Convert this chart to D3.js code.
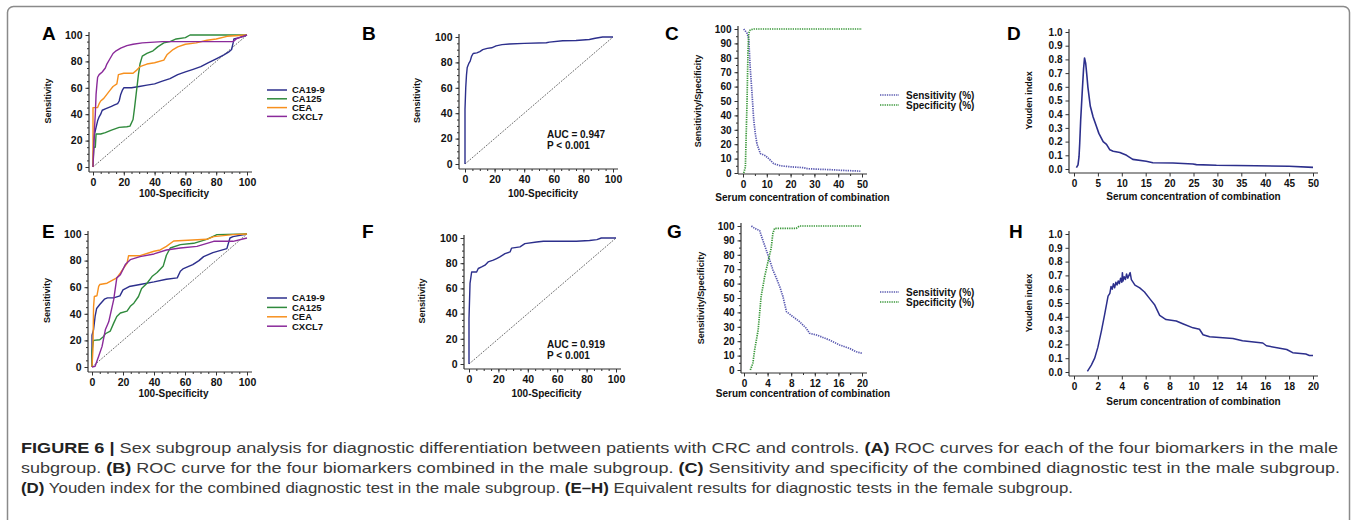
<!DOCTYPE html>
<html>
<head>
<meta charset="utf-8">
<script src="https://cdn.jsdelivr.net/npm/d3@7"></script>
<style>
  body { margin: 0; background: #fff; }
  svg text { font-family: "Liberation Sans", Arial, sans-serif; }
</style>
</head>
<body>
<svg id="fig" width="1357" height="520"></svg>
<script>
// ---- data ----
var markers = ["CA19-9", "CA125", "CEA", "CXCL7"];
var sensSpecNames = ["Sensitivity (%)", "Specificity (%)"];

var rocTicks = [0, 20, 40, 60, 80, 100];
var pctTicks = [0, 10, 20, 30, 40, 50, 60, 70, 80, 90, 100];
var youdenTicks = [0, 0.1, 0.2, 0.3, 0.4, 0.5, 0.6, 0.7, 0.8, 0.9, 1.0];
var concTicksMale = [0, 10, 20, 30, 40, 50];
var concTicksMaleD = [0, 5, 10, 15, 20, 25, 30, 35, 40, 45, 50];
var concTicksFemaleG = [0, 4, 8, 12, 16, 20];
var concTicksFemaleH = [0, 2, 4, 6, 8, 10, 12, 14, 16, 18, 20];

// A: male, single markers  [100-specificity, sensitivity]
var ca199Male = [[0,0],[0.5,20],[1,25],[2,30],[3,35],[4,38],[5,40],[6,43],[8,44],[10,45],[12,46],[14,47],[16,48],[17,50],[18,55],[19,58],[20,60],[25,60],[30,61],[35,62],[40,63],[45,65],[50,67],[55,70],[60,72],[65,74],[70,76],[75,79],[80,82],[85,85],[88,87],[90,89],[91,94],[91.5,97],[95,98],[100,100]];
var ca125Male = [[0,0],[0.5,15],[1.5,15],[2,25],[5,25],[8,26],[12,28],[17,30],[22,30.5],[24,31],[26,36],[27,45],[28,55],[28.5,60],[29.5,70],[30.5,78],[32,84],[35,86],[39,88],[42,91],[46,94],[50,95],[54,97],[60,98],[63,100],[100,100]];
var ceaMale = [[0,0],[0,45],[3,45],[4,48],[5,50],[7,52],[9,55],[11,58],[13,61],[15.5,63],[16.5,70],[20,71],[26,71],[28,73],[30.5,76],[35,78],[40,79],[46,81],[48,85],[52,89],[55,91],[60,93],[67,94],[74,96],[80,97],[87,99],[100,100]];
var cxcl7Male = [[0,0],[0.5,15],[1,30],[1.5,40],[2,55],[2.5,62],[3,68],[4,70],[6,72],[8,75],[9,78],[11,82],[13,86],[15,88],[18,90],[22,92],[26,93],[32,94],[45,95],[60,95],[91,95],[93,97],[95,98],[100,100]];

// B: male, combined
var combMale = [[0,0],[0,43],[0.5,60],[1,70],[1.5,76],[2.5,79],[3.5,81],[4.5,85],[5.5,87],[8,87.5],[10,88.5],[12,90],[15,91],[18,91.5],[21,93],[25,94],[30,94.5],[40,95],[55,95.5],[57,96],[66,97],[75,97.3],[84,98],[88,99],[93,100],[100,100]];

// C: male, sensitivity / specificity vs concentration
var sensMale = [[0.3,100],[1.7,97],[2.4,93.5],[3,74],[3.8,55],[4.5,37],[5.2,27],[5.9,20],[7.3,13.5],[9.4,12],[10.8,10],[12.9,6.5],[15.7,5],[20,4.3],[25.5,3.7],[27,3],[32,2.6],[36.7,2.3],[42,1.8],[48,1.4],[49.3,1.2]];
var specMale = [[0.3,0],[1,4],[1.7,50],[2.1,85],[2.4,97],[3,99.3],[4.5,100],[50,100]];

// D: male, Youden index
var youdenMale = [[0.5,0.01],[0.84,0.03],[1.05,0.09],[1.2,0.19],[1.4,0.36],[1.75,0.58],[2.0,0.73],[2.2,0.81],[2.45,0.77],[2.7,0.68],[2.9,0.6],[3.4,0.46],[4.0,0.38],[4.7,0.31],[5.2,0.26],[6.1,0.2],[6.8,0.18],[7.5,0.14],[8.2,0.13],[9.6,0.12],[11,0.1],[12.3,0.07],[15.1,0.056],[16.5,0.046],[20.7,0.044],[24.9,0.037],[25.6,0.032],[29.8,0.027],[38,0.024],[45,0.02],[50,0.012]];

// E: female, single markers
var ca199Female = [[0,0],[0,24],[1,28],[2,38],[3,44],[5,47],[8,51],[10,52],[14,52],[18,53.5],[20,58],[24,60.5],[31,62],[40,64],[48,66],[55,67],[57,72],[59,74],[65,77],[69,80],[72,83],[78,86],[87,89],[89,97],[91,98],[100,100]];
var ca125Female = [[0,0],[0,12],[1,20],[5,20.5],[7.5,23],[8.6,25],[11.8,27],[14,33],[16,38],[18.3,40.6],[22.6,42],[24.7,45.6],[27,48],[30,53],[32,59],[35.5,63],[38.7,68],[42,71],[46,76],[48,84],[50.5,89.5],[57,92],[65.6,93],[74,96],[80.6,99.5],[100,100]];
var ceaFemale = [[0,0],[0.6,13],[1,45],[1.5,53],[3.2,53.6],[4.3,60.6],[5,62],[9.7,63],[16,67],[18.3,70.7],[20.4,74.4],[22.6,78],[23.6,83.7],[31,83.7],[40,87],[44,88],[48,90.7],[52.7,94.7],[74,96],[78.5,98],[91,99.5],[100,100]];
var cxcl7Female = [[0,0],[2,0.5],[4.3,8],[6.5,15.5],[8.6,28],[10.8,34],[14,50.6],[16,67],[18.3,69.4],[21.5,77],[24.7,80.7],[31,83],[40,85],[48,88],[57,89.5],[67.7,90.7],[78.5,94.5],[91,94.5],[100,97]];

// F: female, combined
var combFemale = [[0,0],[0,36],[0.7,64],[1.8,73],[5.2,73],[6.3,75.8],[8.6,77],[10.9,78.4],[13,81],[16.5,82.4],[18.8,83.7],[21,85],[24.5,87.6],[28,89],[29,92],[34.7,93],[38,95.5],[46,96.8],[50.6,97.4],[73,97.4],[82,98],[87,98.7],[90,100],[100,100]];

// G: female, sensitivity / specificity
var sensFemale = [[1.25,100],[1.8,98.4],[2.65,96.8],[3.2,90],[3.8,83],[4.35,76.4],[4.9,69.4],[5.5,63.7],[6.05,58],[6.6,51],[7.2,40.5],[8.3,37],[9.4,33.6],[10.55,29],[11.1,25.5],[12.3,24.3],[14.5,20.8],[16.2,17.4],[17.9,15],[19,12.7],[20,11.6]];
var specFemale = [[1.07,0],[1.5,4.6],[1.8,13.9],[2.4,27.8],[2.9,51],[3.5,64.8],[4.07,75.2],[4.6,84.5],[4.9,95],[5.2,98.4],[8.87,98.4],[9.4,100],[20,100]];

// H: female, Youden index
var youdenFemale = [[1.12,0.005],[1.45,0.05],[1.73,0.1],[2.0,0.18],[2.3,0.3],[2.57,0.42],[2.85,0.55],[3.0,0.57],[3.1,0.62],[3.2,0.6],[3.3,0.64],[3.4,0.61],[3.5,0.65],[3.6,0.63],[3.7,0.66],[3.8,0.64],[3.9,0.68],[4.0,0.65],[4.05,0.72],[4.1,0.66],[4.2,0.69],[4.3,0.67],[4.4,0.71],[4.5,0.68],[4.6,0.70],[4.7,0.72],[4.8,0.67],[5.1,0.63],[5.5,0.61],[5.9,0.58],[6.35,0.53],[6.76,0.485],[7.17,0.41],[7.7,0.38],[8.56,0.37],[9.1,0.35],[9.96,0.32],[10.5,0.31],[10.8,0.27],[11.35,0.255],[13.3,0.243],[14.1,0.226],[15.8,0.21],[16.1,0.19],[17.8,0.163],[18.3,0.14],[19.4,0.13],[19.7,0.12],[20,0.12]];

var aucMale = ["AUC = 0.947", "P < 0.001"];
var aucFemale = ["AUC = 0.919", "P < 0.001"];

// ---- styles ----
var cBlue = "#2c2f8c", cGreen = "#2f8a3c", cOrange = "#f7901e", cPurple = "#8a2a9a";
var cSens = "#5858b0", cSpec = "#3a983a";
var axisCol = "#333";

var svg = d3.select("#fig");

// figure frame
svg.append("rect")
  .attr("x", 7.5).attr("y", 6.5)
  .attr("width", 1342).attr("height", 540)
  .attr("rx", 6)
  .attr("fill", "none")
  .attr("stroke", "#8a8a8a")
  .attr("stroke-width", 1.5);

function range(a, b, s) {
  return d3.range(a, b + s / 2, s);
}

function drawPanel(p) {
  var g = svg.append("g");
  var x = d3.scaleLinear().domain(p.xDomain).range([p.x0, p.x1]);
  var y = d3.scaleLinear().domain(p.yDomain).range([p.y0, p.y1]);

  // minor ticks
  if (p.yMinor) {
    g.append("g").attr("transform", "translate(" + p.ax + ",0)")
      .call(d3.axisLeft(y).tickValues(p.yMinor).tickSize(2).tickFormat(""));
  }
  if (p.xMinor) {
    g.append("g").attr("transform", "translate(0," + p.ay + ")")
      .call(d3.axisBottom(x).tickValues(p.xMinor).tickSize(2).tickFormat(""));
  }
  g.append("g").attr("class", "yax").attr("transform", "translate(" + p.ax + ",0)")
    .call(d3.axisLeft(y).tickValues(p.yTicks).tickSize(3.5).tickPadding(3).tickFormat(p.yFmt || d3.format("d")));
  g.append("g").attr("class", "xax").attr("transform", "translate(0," + p.ay + ")")
    .call(d3.axisBottom(x).tickValues(p.xTicks).tickSize(3.5).tickPadding(3).tickFormat(d3.format("d")));

  g.selectAll(".domain").remove();
  g.selectAll(".tick line").attr("stroke", axisCol).attr("stroke-width", 1);
  g.selectAll(".tick text")
    .attr("fill", "#111")
    .attr("font-weight", "bold")
    .attr("font-size", p.tickSize);

  // GraphPad-style offset axes
  g.append("line")
    .attr("x1", p.ax).attr("x2", p.ax)
    .attr("y1", y(p.yDomain[1]) - 3).attr("y2", p.ay)
    .attr("stroke", axisCol).attr("stroke-width", 1.2);
  g.append("line")
    .attr("x1", p.ax).attr("x2", x(p.xDomain[1]) + 5)
    .attr("y1", p.ay).attr("y2", p.ay)
    .attr("stroke", axisCol).attr("stroke-width", 1.2);

  // reference diagonal
  if (p.diagonal) {
    g.append("line")
      .attr("x1", x(0)).attr("y1", y(0))
      .attr("x2", x(100)).attr("y2", y(100))
      .attr("stroke", "#222").attr("stroke-width", 0.9)
      .attr("stroke-dasharray", "1,1.3");
  }

  var line = d3.line()
    .x(function(d) { return x(d[0]); })
    .y(function(d) { return y(d[1]); });

  p.series.forEach(function(s) {
    g.append("path")
      .datum(s.data)
      .attr("d", line)
      .attr("fill", "none")
      .attr("stroke", s.color)
      .attr("stroke-width", s.width || 1.4)
      .attr("stroke-dasharray", s.dash || null)
      .attr("stroke-linejoin", "round");
  });

  // axis titles
  g.append("text")
    .attr("x", (p.x0 + p.x1) / 2 + (p.xTitleDx || 0)).attr("y", p.ay + p.xTitleDy)
    .attr("text-anchor", "middle")
    .attr("font-weight", "bold").attr("font-size", p.titleSize).attr("fill", "#111")
    .text(p.xTitle);
  g.append("text")
    .attr("transform", "translate(" + (p.ax - p.yTitleDx) + "," + ((p.y0 + p.y1) / 2) + ") rotate(-90)")
    .attr("text-anchor", "middle")
    .attr("font-weight", "bold").attr("font-size", 9).attr("fill", "#111")
    .text(p.yTitle);

  // panel letter
  g.append("text")
    .attr("x", p.letterX).attr("y", p.letterY)
    .attr("font-weight", "bold").attr("font-size", 19).attr("fill", "#000")
    .text(p.letter);

  // legend
  if (p.legend) {
    var lg = g.append("g");
    p.legend.items.forEach(function(it, i) {
      var ly = p.legend.y + i * p.legend.step;
      lg.append("line")
        .attr("x1", p.legend.x).attr("x2", p.legend.x + p.legend.len)
        .attr("y1", ly).attr("y2", ly)
        .attr("stroke", it.color).attr("stroke-width", it.width || 1.5)
        .attr("stroke-dasharray", it.dash || null);
      lg.append("text")
        .attr("x", p.legend.x + p.legend.len + p.legend.gap).attr("y", ly)
        .attr("dy", "0.35em")
        .attr("font-weight", "bold").attr("font-size", p.legend.size).attr("fill", "#111")
        .text(it.name);
    });
  }

  // AUC note
  if (p.note) {
    p.note.forEach(function(t, i) {
      g.append("text")
        .attr("x", p.noteX).attr("y", p.noteY + i * 11)
        .attr("font-weight", "bold").attr("font-size", 10).attr("fill", "#111")
        .text(t);
    });
  }
}

var rocColors = [cBlue, cGreen, cOrange, cPurple];

function rocLegend(y0, step) {
  return {
    x: 267, len: 20, gap: 5, y: y0, step: step, size: 9.5,
    items: markers.map(function(m, i) { return { name: m, color: rocColors[i] }; })
  };
}

function rocSeries(list) {
  return list.map(function(d, i) { return { data: d, color: rocColors[i] }; });
}

var sensLegendItems = [
  { name: sensSpecNames[0], color: cSens, dash: "1.3,1", width: 1.5 },
  { name: sensSpecNames[1], color: cSpec, dash: "1.3,1", width: 1.5 }
];

var panels = [
  { letter: "A", letterX: 42, letterY: 40,
    xDomain: [0, 100], yDomain: [0, 100], x0: 93, x1: 247, y0: 167, y1: 35, ax: 89, ay: 172,
    xTicks: rocTicks, yTicks: rocTicks, xMinor: range(0, 100, 5), yMinor: range(0, 100, 5),
    tickSize: 10.5, titleSize: 10, xTitle: "100-Specificity", yTitle: "Sensitivity", xTitleDy: 25, xTitleDx: 4, yTitleDx: 38,
    diagonal: true, series: rocSeries([ca199Male, ca125Male, ceaMale, cxcl7Male]),
    legend: rocLegend(90, 8.8) },
  { letter: "B", letterX: 362, letterY: 40,
    xDomain: [0, 100], yDomain: [0, 100], x0: 465, x1: 613, y0: 164, y1: 37, ax: 459, ay: 169,
    xTicks: rocTicks, yTicks: rocTicks, xMinor: range(0, 100, 5), yMinor: range(0, 100, 5),
    tickSize: 10.5, titleSize: 10, xTitle: "100-Specificity", yTitle: "Sensitivity", xTitleDy: 28, xTitleDx: 4, yTitleDx: 39,
    diagonal: true, series: [{ data: combMale, color: cBlue }],
    note: aucMale, noteX: 547, noteY: 138 },
  { letter: "C", letterX: 665, letterY: 40,
    xDomain: [0, 50], yDomain: [0, 100], x0: 743, x1: 862, y0: 173, y1: 29, ax: 738, ay: 174,
    xTicks: concTicksMale, yTicks: pctTicks, xMinor: range(0, 50, 5), yMinor: range(0, 100, 5),
    tickSize: 10, titleSize: 10, xTitle: "Serum concentration of combination", yTitle: "Sensitivity/Specificity",
    xTitleDy: 27, yTitleDx: 37,
    series: [{ data: sensMale, color: cSens, dash: "1.3,1", width: 1.7 }, { data: specMale, color: cSpec, dash: "1.3,1", width: 1.7 }],
    legend: { x: 880, len: 19, gap: 7, y: 95, step: 10, size: 10, items: sensLegendItems } },
  { letter: "D", letterX: 1007, letterY: 40,
    xDomain: [0, 50], yDomain: [0, 1], x0: 1074, x1: 1313, y0: 169, y1: 32, ax: 1069, ay: 173,
    xTicks: concTicksMaleD, yTicks: youdenTicks, yFmt: d3.format(".1f"),
    tickSize: 10, titleSize: 10, xTitle: "Serum concentration of combination", yTitle: "Youden index",
    xTitleDy: 27, yTitleDx: 37,
    series: [{ data: youdenMale, color: cBlue, width: 1.6 }] },

  { letter: "E", letterX: 42, letterY: 238,
    xDomain: [0, 100], yDomain: [0, 100], x0: 92, x1: 247, y0: 367, y1: 234, ax: 88, ay: 372,
    xTicks: rocTicks, yTicks: rocTicks, xMinor: range(0, 100, 5), yMinor: range(0, 100, 5),
    tickSize: 10.5, titleSize: 10, xTitle: "100-Specificity", yTitle: "Sensitivity", xTitleDy: 25, xTitleDx: 4, yTitleDx: 38,
    diagonal: true, series: rocSeries([ca199Female, ca125Female, ceaFemale, cxcl7Female]),
    legend: rocLegend(298, 9.4) },
  { letter: "F", letterX: 362, letterY: 238,
    xDomain: [0, 100], yDomain: [0, 100], x0: 469, x1: 616, y0: 364, y1: 238, ax: 464, ay: 369,
    xTicks: rocTicks, yTicks: rocTicks, xMinor: range(0, 100, 5), yMinor: range(0, 100, 5),
    tickSize: 10.5, titleSize: 10, xTitle: "100-Specificity", yTitle: "Sensitivity", xTitleDy: 28, xTitleDx: 4, yTitleDx: 39,
    diagonal: true, series: [{ data: combFemale, color: cBlue }],
    note: aucFemale, noteX: 547, noteY: 348 },
  { letter: "G", letterX: 667, letterY: 238,
    xDomain: [0, 20], yDomain: [0, 100], x0: 744, x1: 862, y0: 370, y1: 226, ax: 741, ay: 373,
    xTicks: concTicksFemaleG, yTicks: pctTicks, xMinor: range(0, 20, 2), yMinor: range(0, 100, 5),
    tickSize: 10, titleSize: 10, xTitle: "Serum concentration of combination", yTitle: "Sensitivity/Specificity",
    xTitleDy: 24, yTitleDx: 37,
    series: [{ data: sensFemale, color: cSens, dash: "1.3,1", width: 1.7 }, { data: specFemale, color: cSpec, dash: "1.3,1", width: 1.7 }],
    legend: { x: 880, len: 19, gap: 7, y: 292, step: 10, size: 10, items: sensLegendItems } },
  { letter: "H", letterX: 1009, letterY: 238,
    xDomain: [0, 20], yDomain: [0, 1], x0: 1074, x1: 1313, y0: 372, y1: 234, ax: 1069, ay: 376,
    xTicks: concTicksFemaleH, yTicks: youdenTicks, yFmt: d3.format(".1f"),
    tickSize: 10, titleSize: 10, xTitle: "Serum concentration of combination", yTitle: "Youden index",
    xTitleDy: 29, yTitleDx: 37,
    series: [{ data: youdenFemale, color: cBlue, width: 1.5 }] }
];

panels.forEach(drawPanel);

// ---- caption ----
var captionLines = [
  [["FIGURE 6 | ", true], ["Sex subgroup analysis for diagnostic differentiation between patients with CRC and controls. ", false], ["(A)", true], [" ROC curves for each of the four biomarkers in the male", false]],
  [["subgroup. ", false], ["(B)", true], [" ROC curve for the four biomarkers combined in the male subgroup. ", false], ["(C)", true], [" Sensitivity and specificity of the combined diagnostic test in the male subgroup.", false]],
  [["(D)", true], [" Youden index for the combined diagnostic test in the male subgroup. ", false], ["(E–H)", true], [" Equivalent results for diagnostic tests in the female subgroup.", false]]
];
var captionWidths = [1317, 1319, 1052];

captionLines.forEach(function(parts, i) {
  var t = svg.append("text")
    .attr("x", 21).attr("y", 453 + i * 20)
    .attr("font-size", 14.5)
    .attr("fill", "#333")
    .attr("textLength", captionWidths[i])
    .attr("lengthAdjust", "spacingAndGlyphs")
    .style("white-space", "pre");
  parts.forEach(function(pt) {
    t.append("tspan")
      .attr("font-weight", pt[1] ? "bold" : "normal")
      .attr("fill", pt[1] ? "#222" : "#3a3a3a")
      .text(pt[0]);
  });
});
</script>
</body>
</html>
